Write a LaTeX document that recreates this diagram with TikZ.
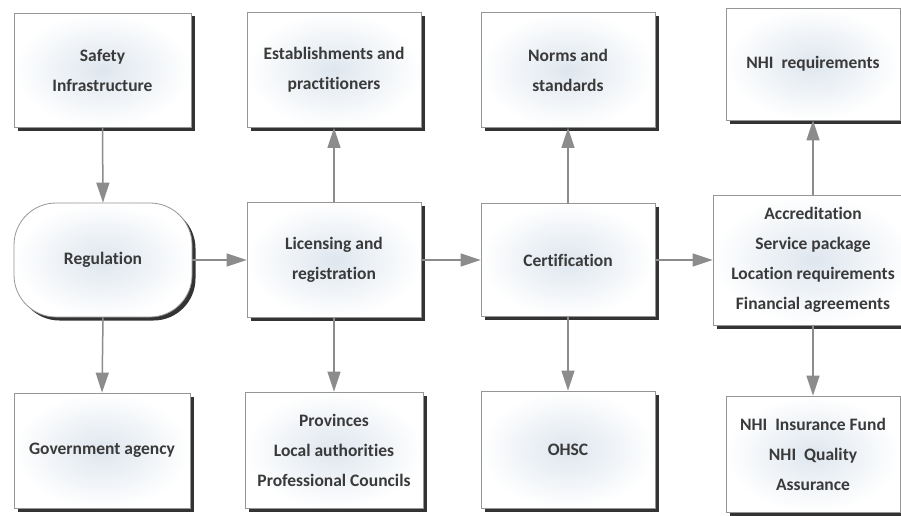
\documentclass[tikz,border=0pt]{standalone}
\usepackage{fontspec}
\setmainfont{Carlito}[Ligatures=NoCommon]
\usetikzlibrary{shapes,arrows.meta,positioning,shadows}
\definecolor{boxtext}{RGB}{58,58,58}
\definecolor{boxline}{RGB}{150,150,150}
\definecolor{arrowgray}{RGB}{140,140,140}
\definecolor{boxinner}{RGB}{222,230,238}
\tikzset{
  boxnode/.style={draw=boxline, line width=0.8pt, inner color=boxinner, outer color=white,
    drop shadow={shadow xshift=3.5pt, shadow yshift=-3.5pt, fill=black, opacity=0.8},
    align=center, text=boxtext, font=\bfseries\fontsize{17.5}{30}\selectfont},
  flow/.style={draw=arrowgray, line width=1.5pt, -{Triangle[length=20pt,width=13pt]}}
}
\begin{document}
\begin{tikzpicture}[x=1pt,y=-1pt]
	% page
	\fill[white] (0,0) rectangle (901,516);
	\useasboundingbox (0,0) rectangle (901,516);
	%% top row
	\node[boxnode,minimum width=177pt,minimum height=114pt] (safety) at (102.5,70) {Safety\\Infrastructure};
	\node[boxnode,minimum width=174pt,minimum height=115pt] (estab) at (334,70) {Establishments and\\practitioners};
	\node[boxnode,minimum width=174pt,minimum height=115pt] (norms) at (568,70) {Norms and\\standards};
	\node[boxnode,minimum width=174pt,minimum height=112pt] (req) at (813,64) {NHI~~requirements};
	%% middle row
	\node[boxnode,rounded corners=42pt,minimum width=178pt,minimum height=114pt] (reg) at (103,260) {Regulation};
	\node[boxnode,minimum width=174pt,minimum height=115pt] (lic) at (334,260) {Licensing and\\registration};
	\node[boxnode,minimum width=174pt,minimum height=113pt] (cert) at (568,260) {Certification};
	\node[boxnode,minimum width=200pt,minimum height=130pt] (acc) at (813,260) {Accreditation\\Service package\\Location requirements\\Financial agreements};
	%% bottom row
	\node[boxnode,minimum width=176pt,minimum height=115pt] (gov) at (102,450.5) {Government agency};
	\node[boxnode,minimum width=178pt,minimum height=116pt] (prov) at (334,450) {Provinces\\Local authorities\\Professional Councils};
	\node[boxnode,minimum width=174pt,minimum height=117pt] (ohsc) at (568,449.5) {OHSC};
	\node[boxnode,minimum width=174pt,minimum height=116pt] (ins) at (813,454) {NHI~~Insurance Fund\\NHI~~Quality\\Assurance};
	%% the arrows
	\draw[flow] (safety.south) -- (reg.north);
	\draw[flow] (reg.south) -- (gov.north);
	\draw[flow] (reg.east) -- (lic.west);
	\draw[flow] (lic.north) -- (estab.south);
	\draw[flow] (lic.south) -- (prov.north);
	\draw[flow] (lic.east) -- (cert.west);
	\draw[flow] (cert.north) -- (norms.south);
	\draw[flow] (cert.south) -- (ohsc.north);
	\draw[flow] (cert.east) -- (acc.west);
	\draw[flow] (acc.north) -- (req.south);
	\draw[flow] (acc.south) -- (ins.north);
\end{tikzpicture}
\end{document}
